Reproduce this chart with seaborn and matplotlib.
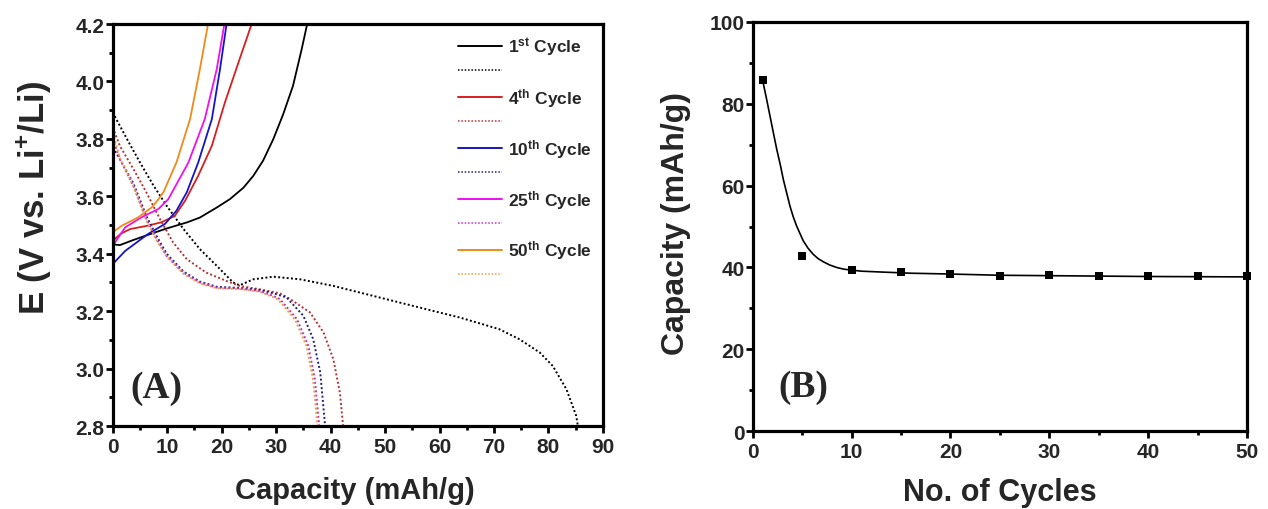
import matplotlib
matplotlib.use("Agg")
import matplotlib.pyplot as plt
from matplotlib.lines import Line2D
from matplotlib.ticker import MultipleLocator, FormatStrFormatter
import pandas as pd
import seaborn as sns

# ---------------- data ----------------
# Panel A: charge (solid) curves
c1_cap = [0, 1.3, 3.8, 6.8, 9.9, 13.6, 16.0, 19.1, 21.5, 24.0, 25.8, 27.6, 29.5, 31.3, 33.1, 34.7, 35.7]
c1_E   = [3.433, 3.43, 3.448, 3.468, 3.488, 3.509, 3.526, 3.561, 3.59, 3.63, 3.671, 3.724, 3.80, 3.886, 3.985, 4.113, 4.2]
c4_cap = [0, 1.5, 3.2, 6.5, 9.0, 11.4, 13.3, 15.7, 18.2, 20.6, 23.1, 25.5]
c4_E   = [3.445, 3.47, 3.486, 3.498, 3.51, 3.532, 3.585, 3.672, 3.776, 3.927, 4.067, 4.2]
c10_cap = [0, 2.3, 6.5, 9.6, 11.7, 13.6, 15.7, 18.2, 19.7, 20.9]
c10_E   = [3.364, 3.41, 3.469, 3.504, 3.55, 3.614, 3.718, 3.869, 4.043, 4.2]
c25_cap = [0, 2.3, 5.3, 8.4, 10.2, 13.9, 16.9, 19.1, 20.5]
c25_E   = [3.428, 3.492, 3.527, 3.556, 3.59, 3.718, 3.869, 4.043, 4.2]
c50_cap = [0, 1.7, 4.7, 7.2, 8.4, 9.3, 11.7, 14.2, 16.0, 17.5]
c50_E   = [3.475, 3.498, 3.527, 3.562, 3.59, 3.614, 3.718, 3.869, 4.043, 4.2]

# Panel A: discharge (dotted) curves
d1_cap = [0, 2.6, 5.0, 7.5, 9.9, 13.0, 16.0, 19.1, 22.1, 23.3, 25.8, 29.5, 34.4, 40.5, 46.6, 52.7, 58.8,
          63.7, 68.0, 71.0, 74.7, 78.4, 80.8, 83.3, 85.1, 85.4]
d1_E   = [3.892, 3.80, 3.718, 3.637, 3.567, 3.486, 3.416, 3.358, 3.30, 3.29, 3.311, 3.32, 3.311, 3.288, 3.259,
          3.23, 3.201, 3.178, 3.154, 3.137, 3.102, 3.056, 3.009, 2.928, 2.835, 2.80]
d4_cap = [0, 1.3, 3.8, 6.2, 8.7, 11.1, 13.6, 17.2, 20.9, 23.3, 27.0, 30.7, 32.6, 36.2, 38.7, 40.5, 41.7, 42.3]
d4_E   = [3.84, 3.776, 3.695, 3.613, 3.52, 3.439, 3.381, 3.334, 3.305, 3.288, 3.276, 3.262, 3.242, 3.196,
          3.126, 3.033, 2.917, 2.80]
d10_cap = [0, 1.3, 3.8, 6.2, 8.1, 9.9, 13.0, 16.0, 19.1, 23.3, 27.0, 29.5, 31.9, 35.0, 36.8, 38.1, 39.0]
d10_E   = [3.77, 3.73, 3.645, 3.53, 3.46, 3.40, 3.338, 3.303, 3.285, 3.281, 3.274, 3.262, 3.248, 3.184, 3.103,
           2.987, 2.80]
d25_cap = [0, 1.3, 3.8, 6.2, 8.1, 9.9, 13.0, 16.0, 19.1, 23.3, 27.0, 29.5, 30.7, 33.8, 35.9, 37.1, 37.9]
d25_E   = [3.80, 3.73, 3.637, 3.52, 3.45, 3.393, 3.334, 3.30, 3.282, 3.279, 3.27, 3.253, 3.242, 3.173, 3.08,
           2.964, 2.80]
d50_cap = [0, 1.3, 3.8, 6.2, 8.1, 9.9, 13.0, 16.0, 19.1, 23.3, 27.0, 29.3, 30.4, 33.5, 35.6, 36.8, 37.6]
d50_E   = [3.82, 3.735, 3.635, 3.515, 3.445, 3.39, 3.33, 3.297, 3.28, 3.277, 3.268, 3.25, 3.24, 3.17, 3.077,
           2.96, 2.80]

cycle_labels = [r"1$^{st}$ Cycle", r"4$^{th}$ Cycle", r"10$^{th}$ Cycle", r"25$^{th}$ Cycle", r"50$^{th}$ Cycle"]
charge_colors = ["#000000", "#d91e1e", "#1515c8", "#ee10ee", "#f08a1a"]
discharge_colors = ["#000000", "#b83030", "#202080", "#c030c0", "#e8a040"]

# Panel B: cycling capacity
cycles = [1, 5, 10, 15, 20, 25, 30, 35, 40, 45, 50]
capacity = [85.8, 42.7, 39.4, 39.0, 38.4, 38.0, 38.1, 37.9, 37.8, 37.8, 37.8]
# fitted trend line
fit_cycles = [1, 1.4, 1.75, 2.1, 2.43, 2.8, 3.1, 3.45, 3.77, 4.1, 4.45, 4.8, 5.12, 5.6, 6.13, 6.6, 7.14,
              7.8, 8.5, 9.2, 9.84, 11.0, 12.9, 16, 20, 25, 30, 40, 50]
fit_cap = [85.8, 81.2, 77.0, 72.8, 68.9, 65.0, 61.5, 58.1, 55.0, 52.4, 50.1, 48.2, 46.5, 44.7, 43.2, 42.2,
           41.4, 40.6, 40.0, 39.6, 39.4, 39.1, 38.9, 38.6, 38.4, 38.1, 38.0, 37.8, 37.7]

# ---------------- style ----------------
sns.set_style("white")
plt.rcParams["font.family"] = ["Liberation Sans", "DejaVu Sans"]
plt.rcParams["font.weight"] = "bold"
plt.rcParams["mathtext.fontset"] = "custom"
plt.rcParams["mathtext.rm"] = "Liberation Sans:bold"
plt.rcParams["mathtext.it"] = "Liberation Sans:bold"
plt.rcParams["mathtext.bf"] = "Liberation Sans:bold"
plt.rcParams["mathtext.default"] = "bf"

fig = plt.figure(figsize=(12.68, 5.10), dpi=100)
axA = fig.add_axes([0.0889, 0.1627, 0.3866, 0.7882])
axB = fig.add_axes([0.5936, 0.1524, 0.3898, 0.8029])

def style_axes(ax):
    for sp in ax.spines.values():
        sp.set_linewidth(2.3)
        sp.set_color("black")
    ax.tick_params(which="major", direction="out", length=5, width=2.0, labelsize=15,
                   top=False, right=False, bottom=True, left=True, color="black", pad=3)
    ax.tick_params(axis="y", which="major", pad=0.8)
    ax.tick_params(which="minor", direction="out", length=3, width=2.0,
                   top=False, right=False, bottom=True, left=True, color="black")
    for lab in ax.get_xticklabels() + ax.get_yticklabels():
        lab.set_fontweight("bold")

# ---------------- Panel A ----------------
charge_sets = [(c1_cap, c1_E), (c4_cap, c4_E), (c10_cap, c10_E), (c25_cap, c25_E), (c50_cap, c50_E)]
discharge_sets = [(d1_cap, d1_E), (d4_cap, d4_E), (d10_cap, d10_E), (d25_cap, d25_E), (d50_cap, d50_E)]
dot_style = (0, (1, 1.2))

handles, labels = [], []
for i in range(5):
    cx, cy = charge_sets[i]
    dx, dy = discharge_sets[i]
    dfc = pd.DataFrame({"cap": cx, "E": cy})
    dfd = pd.DataFrame({"cap": dx, "E": dy})
    sns.lineplot(data=dfc, x="cap", y="E", ax=axA, color=charge_colors[i], lw=1.3,
                 sort=False, estimator=None)
    sns.lineplot(data=dfd, x="cap", y="E", ax=axA, color=discharge_colors[i], lw=1.4,
                 linestyle=dot_style, sort=False, estimator=None)
    handles.append(Line2D([], [], color=charge_colors[i], lw=1.4))
    labels.append(cycle_labels[i])
    handles.append(Line2D([], [], color=discharge_colors[i], lw=1.1, linestyle=dot_style))
    labels.append(" ")

axA.set_xlim(0, 90)
axA.set_ylim(2.8, 4.2)
axA.xaxis.set_major_locator(MultipleLocator(10))
axA.xaxis.set_minor_locator(MultipleLocator(5))
axA.yaxis.set_major_locator(MultipleLocator(0.2))
axA.yaxis.set_minor_locator(MultipleLocator(0.1))
axA.yaxis.set_major_formatter(FormatStrFormatter("%.1f"))
axA.set_xlabel("Capacity (mAh/g)", fontsize=21, fontweight="bold")
axA.set_ylabel(r"E (V vs. Li$^{+}$/Li)", fontsize=25, fontweight="bold")
axA.xaxis.set_label_coords(0.494, -0.125)
axA.yaxis.set_label_coords(-0.122, 0.57)
style_axes(axA)
leg = axA.legend(handles, labels, loc="upper left", bbox_to_anchor=(0.705, 0.972), frameon=False,
                 fontsize=12.5, handlelength=2.5, handletextpad=0.35, labelspacing=0.37,
                 borderaxespad=0, borderpad=0)
for t in leg.get_texts():
    t.set_fontweight("bold")
axA.text(0.035, 0.095, "(A)", transform=axA.transAxes, fontsize=27, fontweight="bold",
         family=["Liberation Serif"], va="center", ha="left")

# ---------------- Panel B ----------------
dfB = pd.DataFrame({"cycle": cycles, "cap": capacity})
dfF = pd.DataFrame({"cycle": fit_cycles, "cap": fit_cap})
sns.lineplot(data=dfF, x="cycle", y="cap", ax=axB, color="black", lw=1.2, sort=False, estimator=None)
sns.scatterplot(data=dfB, x="cycle", y="cap", ax=axB, color="black", marker="s", s=34,
                edgecolor="black", linewidth=0, zorder=5, clip_on=False)
axB.set_xlim(0, 50)
axB.set_ylim(0, 100)
axB.xaxis.set_major_locator(MultipleLocator(10))
axB.xaxis.set_minor_locator(MultipleLocator(5))
axB.yaxis.set_major_locator(MultipleLocator(20))
axB.yaxis.set_minor_locator(MultipleLocator(10))
axB.set_xlabel("No. of Cycles", fontsize=22, fontweight="bold")
axB.set_ylabel("Capacity (mAh/g)", fontsize=23, fontweight="bold")
axB.xaxis.set_label_coords(0.5, -0.112)
axB.yaxis.set_label_coords(-0.124, 0.51)
style_axes(axB)
axB.text(0.051, 0.11, "(B)", transform=axB.transAxes, fontsize=27, fontweight="bold",
         family=["Liberation Serif"], va="center", ha="left")

fig.savefig("out.png", dpi=100)
